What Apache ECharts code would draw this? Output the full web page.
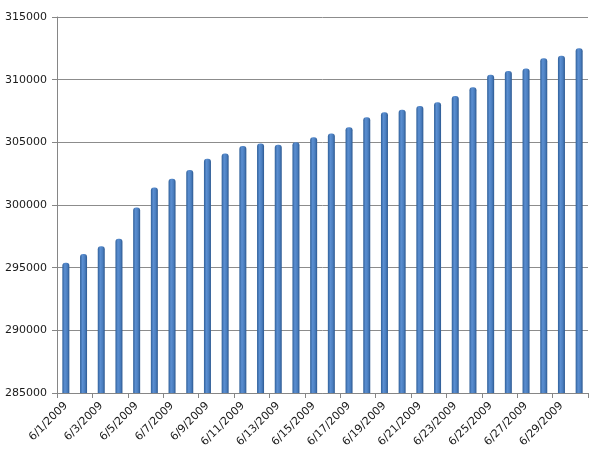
<!DOCTYPE html>
<html lang="en">
<head>
  <meta charset="UTF-8" />
  <title>June 2009</title>
  <script src="https://cdn.jsdelivr.net/npm/echarts@6.0.0/dist/echarts.min.js"></script>
  <style>
    html, body { margin: 0; padding: 0; background: #fff; }
  </style>
</head>
<body>
  <div id="main" style="width:600px; height:458px;"></div>
  <script type="text/javascript">
    // dates, 6/1/2009 .. 6/30/2009
    const days = [
      '6/1/2009', '6/2/2009', '6/3/2009', '6/4/2009', '6/5/2009',
      '6/6/2009', '6/7/2009', '6/8/2009', '6/9/2009', '6/10/2009',
      '6/11/2009', '6/12/2009', '6/13/2009', '6/14/2009', '6/15/2009',
      '6/16/2009', '6/17/2009', '6/18/2009', '6/19/2009', '6/20/2009',
      '6/21/2009', '6/22/2009', '6/23/2009', '6/24/2009', '6/25/2009',
      '6/26/2009', '6/27/2009', '6/28/2009', '6/29/2009', '6/30/2009'
    ];

    // values
    const totals = [
      295400, 296100, 296700, 297300, 299800,
      301400, 302100, 302800, 303700, 304100,
      304700, 304900, 304800, 305000, 305400,
      305700, 306200, 307000, 307400, 307600,
      307900, 308200, 308700, 309400, 310400,
      310700, 310900, 311700, 311900, 312500
    ];

    const yMin = 285000, yMax = 315000, yStep = 5000;

    const chart = echarts.init(document.getElementById('main'));
    chart.setOption({
      animation: false,
      textStyle: { fontFamily: 'DejaVu Sans' },
      grid: { left: 57, right: 12, top: 17, bottom: 65, containLabel: false },
      xAxis: {
        type: 'category',
        data: days,
        boundaryGap: true,
        axisLine: { lineStyle: { color: '#868686', width: 1 } },
        axisTick: { show: true, interval: 1, length: 5, lineStyle: { color: '#868686' } },
        axisLabel: { interval: 1, rotate: 45, margin: 11, fontSize: 11, color: '#1a1a1a' }
      },
      yAxis: {
        type: 'value',
        min: yMin,
        max: yMax,
        interval: yStep,
        axisLine: { show: true, lineStyle: { color: '#868686', width: 1 } },
        axisTick: { show: true, length: 5, lineStyle: { color: '#868686' } },
        axisLabel: {
          margin: 10, fontSize: 11, color: '#1a1a1a',
          formatter: function (v) { return String(v); }
        },
        splitLine: { show: true, lineStyle: { color: '#8c8c8c', width: 1 } }
      },
      series: [{
        type: 'bar',
        data: totals,
        barWidth: 7,
        itemStyle: {
          color: new echarts.graphic.LinearGradient(0, 0, 1, 0, [
            { offset: 0, color: '#2f5f99' },
            { offset: 0.35, color: '#5b8fd2' },
            { offset: 0.7, color: '#4a7ebf' },
            { offset: 1, color: '#2c5890' }
          ]),
          borderRadius: [3, 3, 0, 0]
        }
      }]
    });
  </script>
</body>
</html>
